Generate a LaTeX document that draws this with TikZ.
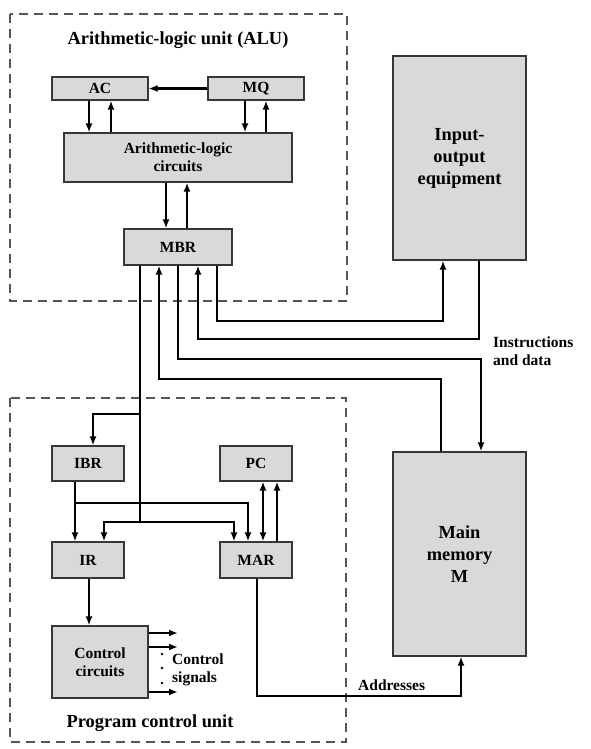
\documentclass[tikz,border=0pt]{standalone}
\usepackage{fontspec}
\setmainfont{Liberation Serif}
\usetikzlibrary{arrows.meta}
\definecolor{boxfill}{RGB}{217,217,217}
\definecolor{boxline}{RGB}{55,55,55}
\definecolor{dashline}{RGB}{85,85,85}
\begin{document}
\begin{tikzpicture}[x=1pt,y=-1pt,
  box/.style={draw=boxline, line width=1.1pt, fill=boxfill, inner sep=0pt, align=center,
              font=\fontsize{15.5}{18}\selectfont\bfseries},
  bigbox/.style={box, font=\fontsize{18.4}{22}\selectfont\bfseries},
  unit/.style={draw=dashline, line width=1.2pt, dash pattern=on 9pt off 6pt},
  conn/.style={line width=2.3pt, line join=miter},
  arr/.style={conn, -{Latex[length=9pt,width=7pt]}},
  darr/.style={conn, {Latex[length=9pt,width=7pt]}-{Latex[length=9pt,width=7pt]}},
  lbl/.style={inner sep=0pt, align=left, font=\fontsize{15.5}{18}\selectfont\bfseries},
  ttl/.style={inner sep=0pt, font=\fontsize{18.4}{22}\selectfont\bfseries}]
\useasboundingbox (0,0) rectangle (590,749);

% unit frames
\draw[unit] (10,14) rectangle (347,301);
\draw[unit] (10,398) rectangle (346,742);
\node[ttl] (alut) at (178,40) {Arithmetic-logic unit (ALU)};
\node[ttl] (pcut) at (150,723) {Program control unit};

% boxes
\node[box, minimum width=96, minimum height=23] (AC) at (100,88.5) {AC};
\node[box, minimum width=96, minimum height=23] (MQ) at (256,88.5) {MQ};
\node[box, minimum width=228, minimum height=49] (ALC) at (178,157.5) {Arithmetic-logic\\circuits};
\node[box, minimum width=108, minimum height=36] (MBR) at (178,247) {MBR};
\node[bigbox, minimum width=133, minimum height=204] (IO) at (459.5,158) {Input-\\output\\equipment};
\node[bigbox, minimum width=133, minimum height=204] (MM) at (459.5,554) {Main\\memory\\M};
\node[box, minimum width=72, minimum height=35] (IBR) at (88,463.5) {IBR};
\node[box, minimum width=72, minimum height=35] (PC) at (256,463.5) {PC};
\node[box, minimum width=72, minimum height=36] (IR) at (88,560) {IR};
\node[box, minimum width=72, minimum height=36] (MAR) at (256,560) {MAR};
\node[box, minimum width=96, minimum height=72] (CC) at (100,662) {Control\\circuits};

% ALU internals
\draw[arr] (MQ.west) -- (AC.east);
\draw[arr] (89,0 |- AC.south) -- (89,0 |- ALC.north);
\draw[arr] (111,0 |- ALC.north) -- (111,0 |- AC.south);
\draw[arr] (245,0 |- MQ.south) -- (245,0 |- ALC.north);
\draw[arr] (266,0 |- ALC.north) -- (266,0 |- MQ.south);
\draw[arr] (166,0 |- ALC.south) -- (166,0 |- MBR.north);
\draw[arr] (187,0 |- MBR.north) -- (187,0 |- ALC.south);

% MBR <-> IO and memory
\draw[arr] (217,0 |- MBR.south) -- (217,321) -| (443,0 |- IO.south);
\draw[arr] (479,0 |- IO.south) -- (479,339) -| (198,0 |- MBR.south);
\draw[arr] (178,0 |- MBR.south) -- (178,359) -| (481,0 |- MM.north);
\draw[arr] (441,0 |- MM.north) -- (441,379) -| (159,0 |- MBR.south);

% MBR to program control unit
\coordinate (jb) at (140,414);
\coordinate (jbus) at (140,522);
\draw[conn] (140,0 |- MBR.south) -- (jbus);
\draw[arr] (jb) -| (93,0 |- IBR.north);
\draw[arr] (jbus) -| (104,0 |- IR.north);
\draw[arr] (jbus) -| (234,0 |- MAR.north);
\coordinate (jibr) at (75,503);
\draw[arr] (75,0 |- IBR.south) -- (75,0 |- IR.north);
\draw[arr] (jibr) -| (248,0 |- MAR.north);
\draw[darr] (263,0 |- MAR.north) -- (263,0 |- PC.south);
\draw[arr] (277,0 |- MAR.north) -- (277,0 |- PC.south);
\draw[arr] (89,0 |- IR.south) -- (89,0 |- CC.north);

% control signals
\coordinate (s1) at (178,633);
\coordinate (s2) at (178,647);
\coordinate (s3) at (178,692);
\draw[arr] (CC.east |- s1) -- (s1);
\draw[arr] (CC.east |- s2) -- (s2);
\draw[arr] (CC.east |- s3) -- (s3);
\fill (162,654) circle (1.4pt);
\fill (162,668) circle (1.4pt);
\fill (162,683) circle (1.4pt);
\node[lbl, anchor=west] (sig) at (172,670) {Control\\signals};

% addresses
\draw[arr] (257,0 |- MAR.south) -- (257,696) -| (461,0 |- MM.south);
\node[lbl, anchor=west] (addr) at (358,685) {Addresses};

\node[lbl, anchor=west] (ind) at (493,351) {Instructions\\and data};
\end{tikzpicture}
\end{document}
